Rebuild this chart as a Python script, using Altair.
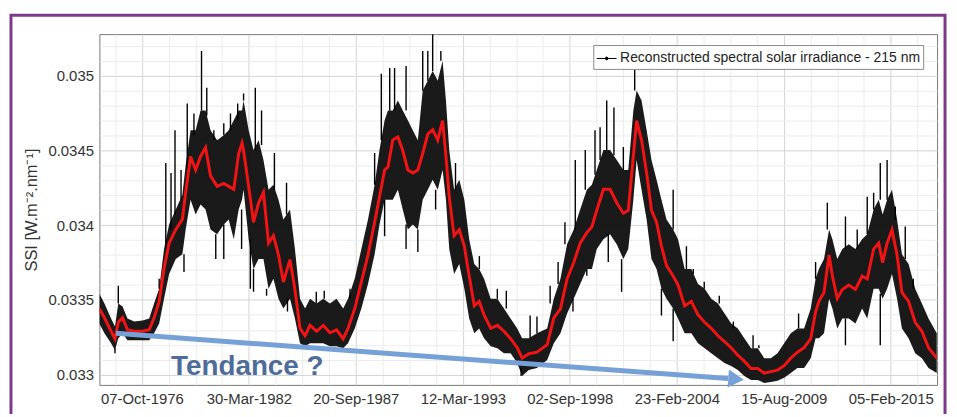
import altair as alt
import pandas as pd
import numpy as np

# ---------------- data ----------------
years = [1974.59, 1974.85, 1975.19, 1975.39, 1975.56, 1975.78, 1976.03, 1976.38, 1976.80, 1977.14,
         1977.39, 1977.65, 1977.90, 1978.16, 1978.50, 1978.84, 1979.01, 1979.26, 1979.52, 1979.77,
         1980.03, 1980.28, 1980.62, 1980.96, 1981.21, 1981.47, 1981.72, 1981.89, 1981.97, 1982.23,
         1982.48, 1982.74, 1982.99, 1983.25, 1983.50, 1983.76, 1984.01, 1984.35, 1984.60, 1984.86,
         1985.12, 1985.37, 1985.71, 1986.05, 1986.39, 1986.73, 1987.07, 1987.32, 1987.66, 1988.00,
         1988.34, 1988.68, 1988.93, 1989.19, 1989.36, 1989.61, 1989.87, 1990.12, 1990.38, 1990.63,
         1990.89, 1991.14, 1991.40, 1991.65, 1991.91, 1992.16, 1992.33, 1992.50, 1992.75, 1993.01,
         1993.27, 1993.52, 1993.78, 1994.03, 1994.28, 1994.62, 1994.96, 1995.30, 1995.64, 1995.98,
         1996.23, 1996.57, 1996.99, 1997.51, 1997.85, 1998.19, 1998.53, 1998.87, 1999.20, 1999.54,
         1999.80, 2000.05, 2000.39, 2000.73, 2001.07, 2001.41, 2001.66, 2001.92, 2002.09, 2002.34,
         2002.60, 2002.85, 2003.11, 2003.36, 2003.62, 2003.96, 2004.21, 2004.55, 2004.89, 2005.23,
         2005.57, 2005.91, 2006.25, 2006.59, 2006.93, 2007.27, 2007.60, 2007.95, 2008.29, 2008.62,
         2008.96, 2009.30, 2009.64, 2009.98, 2010.32, 2010.66, 2011.00, 2011.25, 2011.42, 2011.68,
         2011.94, 2012.11, 2012.36, 2012.62, 2012.95, 2013.29, 2013.63, 2013.89, 2014.22, 2014.48,
         2014.68, 2014.91, 2015.16, 2015.42, 2015.67, 2016.01, 2016.35, 2016.69, 2017.03, 2017.45]

smoothed = [0.03344, 0.03338, 0.03329, 0.03324, 0.03335, 0.03338, 0.03330, 0.03329, 0.03329, 0.03330,
            0.03338, 0.03349, 0.03371, 0.03388, 0.03397, 0.03404, 0.03422, 0.03446, 0.03437, 0.03446,
            0.03452, 0.03433, 0.03426, 0.03428, 0.03426, 0.03424, 0.03448, 0.03455, 0.03450, 0.03426,
            0.03402, 0.03415, 0.03422, 0.03388, 0.03393, 0.03380, 0.03362, 0.03377, 0.03357, 0.03331,
            0.03326, 0.03333, 0.03329, 0.03333, 0.03328, 0.03330, 0.03324, 0.03331, 0.03344, 0.03362,
            0.03380, 0.03402, 0.03419, 0.03437, 0.03439, 0.03457, 0.03459, 0.03450, 0.03437, 0.03435,
            0.03437, 0.03448, 0.03461, 0.03464, 0.03457, 0.03470, 0.03446, 0.03419, 0.03393, 0.03397,
            0.03386, 0.03366, 0.03346, 0.03349, 0.03340, 0.03331, 0.03333, 0.03329, 0.03324, 0.03318,
            0.03311, 0.03314, 0.03315, 0.03320, 0.03338, 0.03344, 0.03364, 0.03375, 0.03388, 0.03395,
            0.03399, 0.03410, 0.03424, 0.03424, 0.03415, 0.03408, 0.03410, 0.03446, 0.03470, 0.03457,
            0.03435, 0.03410, 0.03402, 0.03386, 0.03373, 0.03366, 0.03360, 0.03346, 0.03349, 0.03340,
            0.03335, 0.03331, 0.03326, 0.03322, 0.03318, 0.03313, 0.03309, 0.03304, 0.03304, 0.03301,
            0.03302, 0.03303, 0.03306, 0.03311, 0.03315, 0.03318, 0.03324, 0.03342, 0.03349, 0.03355,
            0.03380, 0.03366, 0.03351, 0.03357, 0.03360, 0.03357, 0.03366, 0.03364, 0.03384, 0.03388,
            0.03375, 0.03388, 0.03397, 0.03380, 0.03355, 0.03349, 0.03335, 0.03329, 0.03318, 0.03311]

band_hi = [0.033541, 0.033475, 0.033375, 0.033322, 0.033475, 0.033455, 0.033375, 0.033355, 0.033362, 0.033375,
           0.033475, 0.033574, 0.033840, 0.034005, 0.034105, 0.034204, 0.034403, 0.034635, 0.034635, 0.034768,
           0.034768, 0.034635, 0.034569, 0.034602, 0.034635, 0.034702, 0.034768, 0.034768, 0.034834, 0.034635,
           0.034503, 0.034569, 0.034436, 0.034237, 0.034271, 0.034171, 0.034038, 0.034105, 0.033840, 0.033508,
           0.033442, 0.033508, 0.033475, 0.033508, 0.033475, 0.033508, 0.033442, 0.033508, 0.033641, 0.033840,
           0.034038, 0.034271, 0.034503, 0.034702, 0.034768, 0.034768, 0.034834, 0.034768, 0.034702, 0.034635,
           0.034569, 0.034901, 0.034967, 0.035033, 0.034967, 0.035100, 0.034834, 0.034503, 0.034237, 0.034304,
           0.034171, 0.033906, 0.033740, 0.033707, 0.033641, 0.033508, 0.033508, 0.033442, 0.033375, 0.033309,
           0.033243, 0.033243, 0.033276, 0.033309, 0.033508, 0.033641, 0.033873, 0.033972, 0.034105, 0.034237,
           0.034271, 0.034370, 0.034503, 0.034503, 0.034436, 0.034370, 0.034370, 0.034768, 0.034901, 0.034834,
           0.034635, 0.034436, 0.034304, 0.034171, 0.034038, 0.033972, 0.033906, 0.033707, 0.033707, 0.033607,
           0.033574, 0.033508, 0.033475, 0.033409, 0.033342, 0.033309, 0.033243, 0.033176, 0.033176, 0.033110,
           0.033110, 0.033143, 0.033210, 0.033276, 0.033309, 0.033309, 0.033442, 0.033641, 0.033707, 0.033773,
           0.033972, 0.033906, 0.033773, 0.033840, 0.033873, 0.033840, 0.033906, 0.033939, 0.034105, 0.034171,
           0.034072, 0.034171, 0.034237, 0.034038, 0.033806, 0.033740, 0.033574, 0.033475, 0.033375, 0.033276]

band_lo = [0.033342, 0.033276, 0.033210, 0.033163, 0.033243, 0.033276, 0.033229, 0.033229, 0.033229, 0.033229,
           0.033276, 0.033342, 0.033508, 0.033674, 0.033773, 0.033806, 0.033972, 0.034171, 0.034072, 0.034138,
           0.034105, 0.033972, 0.033939, 0.034005, 0.034038, 0.033906, 0.034105, 0.034171, 0.034237, 0.033906,
           0.033707, 0.033773, 0.033773, 0.033574, 0.033641, 0.033508, 0.033442, 0.033508, 0.033375, 0.033210,
           0.033190, 0.033210, 0.033210, 0.033210, 0.033190, 0.033190, 0.033176, 0.033210, 0.033309, 0.033442,
           0.033607, 0.033806, 0.034005, 0.034171, 0.034171, 0.034171, 0.034237, 0.034105, 0.033972, 0.034005,
           0.033972, 0.034171, 0.034237, 0.034304, 0.034237, 0.034370, 0.034171, 0.033840, 0.033674, 0.033740,
           0.033574, 0.033375, 0.033276, 0.033309, 0.033243, 0.033190, 0.033176, 0.033143, 0.033143, 0.033077,
           0.032991, 0.033031, 0.033044, 0.033097, 0.033210, 0.033276, 0.033409, 0.033508, 0.033607, 0.033707,
           0.033707, 0.033840, 0.033906, 0.033939, 0.033873, 0.033773, 0.033840, 0.034171, 0.034436, 0.034237,
           0.034038, 0.033773, 0.033707, 0.033574, 0.033508, 0.033442, 0.033375, 0.033276, 0.033276, 0.033210,
           0.033176, 0.033143, 0.033110, 0.033077, 0.033057, 0.033031, 0.032991, 0.032964, 0.032964, 0.032944,
           0.032951, 0.032958, 0.032978, 0.033011, 0.033044, 0.033044, 0.033110, 0.033243, 0.033243, 0.033276,
           0.033508, 0.033442, 0.033309, 0.033375, 0.033375, 0.033342, 0.033442, 0.033375, 0.033574, 0.033574,
           0.033508, 0.033574, 0.033674, 0.033508, 0.033309, 0.033243, 0.033143, 0.033110, 0.033044, 0.033011]

# isolated daily excursions (time, extreme value, value where the dense band ends)
spike_year = [1975.56, 1977.65, 1977.99, 1978.26, 1978.46, 1978.77, 1979.09, 1979.43, 1979.82, 1980.09,
              1980.45, 1980.96, 1981.30, 1981.67, 1981.97, 1982.57, 1982.89, 1983.55, 1984.17, 1985.69,
              1986.10, 1987.42, 1988.68, 1989.02, 1989.45, 1989.70, 1990.29, 1991.14, 1991.40, 1991.65,
              1992.07, 1992.82, 1994.04, 1994.96, 1995.42, 1996.64, 1996.99, 1997.66, 1998.07, 1998.42,
              1998.95, 1999.46, 1999.96, 2000.22, 2000.56, 2000.93, 2001.41, 2001.99, 2003.96, 2004.64,
              2004.99, 2005.55, 2006.32, 2007.04, 2008.05, 2008.35, 2010.38, 2011.25, 2011.85, 2012.78,
              2013.38, 2013.89, 2014.22, 2014.56, 2014.91, 2015.33, 2015.84, 2016.25,
              1975.39, 1978.92, 1980.55, 1980.96, 1981.87, 1982.32, 1982.48, 1983.15, 1984.22, 1989.19,
              1990.29, 1990.89, 1991.80, 1996.18, 1998.83, 1999.54, 2000.64, 2001.32, 2003.36, 2003.96,
              2012.78, 2014.56]
spike_tip = [0.033594, 0.033641, 0.034416, 0.034350, 0.034635, 0.034370, 0.034814, 0.034748, 0.035166, 0.034920,
             0.034635, 0.034682, 0.034748, 0.034814, 0.034881, 0.034920, 0.034768, 0.034483, 0.034284, 0.033554,
             0.033561, 0.033574, 0.034483, 0.035013, 0.035053, 0.035053, 0.035066, 0.035166, 0.035166, 0.035279,
             0.035166, 0.034416, 0.033793, 0.033574, 0.033561, 0.033395, 0.033389, 0.033594, 0.033753, 0.034019,
             0.034436, 0.034503, 0.034635, 0.034655, 0.034834, 0.034788, 0.034523, 0.035053, 0.034237, 0.033859,
             0.033707, 0.033621, 0.033528, 0.033355, 0.033263, 0.033196, 0.033409, 0.033753, 0.034151, 0.034058,
             0.033972, 0.034191, 0.034218, 0.034416, 0.034436, 0.034125, 0.033992, 0.033641,
             0.033143, 0.033687, 0.033773, 0.033773, 0.033840, 0.033574, 0.033554, 0.033528, 0.033422, 0.033926,
             0.033840, 0.033820, 0.034105, 0.032991, 0.033422, 0.033661, 0.033753, 0.033554, 0.033395, 0.033223,
             0.033196, 0.033196]
spike_base = [0.033475, 0.033574, 0.033840, 0.033972, 0.034072, 0.034171, 0.034370, 0.034602, 0.034768, 0.034735,
              0.034569, 0.034602, 0.034635, 0.034702, 0.034834, 0.034503, 0.034536, 0.034237, 0.034072, 0.033475,
              0.033508, 0.033508, 0.034271, 0.034569, 0.034768, 0.034768, 0.034768, 0.034901, 0.034967, 0.035033,
              0.035100, 0.034237, 0.033707, 0.033508, 0.033442, 0.033243, 0.033276, 0.033475, 0.033607, 0.033873,
              0.033972, 0.034237, 0.034337, 0.034436, 0.034503, 0.034469, 0.034370, 0.034901, 0.033972, 0.033707,
              0.033674, 0.033574, 0.033475, 0.033309, 0.033176, 0.033176, 0.033309, 0.033641, 0.033972, 0.033840,
              0.033840, 0.033939, 0.034105, 0.034171, 0.034171, 0.034038, 0.033773, 0.033574,
              0.033176, 0.033806, 0.033939, 0.034005, 0.034105, 0.033906, 0.033707, 0.033574, 0.033508, 0.034171,
              0.034005, 0.033972, 0.034237, 0.033044, 0.033508, 0.033707, 0.033939, 0.033773, 0.033574, 0.033442,
              0.033375, 0.033541]

major_dates = ["1976-10-07", "1982-03-30", "1987-09-20", "1993-03-12",
               "1998-09-02", "2004-02-23", "2009-08-15", "2015-02-05"]
y_labels = [0.033, 0.0335, 0.034, 0.0345, 0.035]

legend_label = "Reconstructed spectral solar irradiance - 215 nm"
y_title = "SSI [W.m\u207b\u00b2.nm\u207b\u00b9]"
note_text = "Tendance ?"
arrow_years = [1975.44, 2006.77]
arrow_vals = [0.033276, 0.032974]
arrow_head_year = [2007.18]
arrow_head_val = [0.032970]
note_year = [1978.26]
note_val = [0.03300]

x_start, x_end = "1974-08-05", "2017-06-20"
y_min, y_max = 0.032931, 0.035279


def to_date(y):
    yr = int(np.floor(y))
    d = pd.Timestamp(year=yr, month=1, day=1) + pd.Timedelta(days=(y - yr) * 365.25)
    return d.strftime("%Y-%m-%d")


def ms(d):
    return int(pd.Timestamp(d).value // 10**6)


main = pd.DataFrame({"date": [to_date(v) for v in years], "smooth": smoothed,
                     "hi": band_hi, "lo": band_lo})
spikes = pd.DataFrame({"date": [to_date(v) for v in spike_year], "tip": spike_tip,
                       "base": spike_base, "series": legend_label})
arrow = pd.DataFrame({"date": [to_date(v) for v in arrow_years], "v": arrow_vals})
head = pd.DataFrame({"date": [to_date(v) for v in arrow_head_year], "v": arrow_head_val})
note = pd.DataFrame({"date": [to_date(v) for v in note_year], "v": note_val, "t": [note_text]})
frame = pd.DataFrame({"k": [0]})

# ---------------- axes ----------------
minor_x = [ms(d) for d in pd.date_range("1975-05-26", x_end, freq="500D")]
major_ms = [ms(d) for d in major_dates]
x_major_test = "(" + " || ".join("abs(datum.value - %d) < 3600000" % m for m in major_ms) + ")"
x_axis = alt.Axis(
    values=minor_x, title=None, labelExpr="%s ? utcFormat(datum.value, '%%d-%%b-%%Y') : ''" % x_major_test,
    grid=True, gridColor={"condition": {"test": x_major_test, "value": "#d4d4d4"}, "value": "#ececec"},
    ticks=False, domain=False, labelPadding=7, labelFlush=False, labelOverlap=False,
)
minor_y = [round(0.0330 + i * 0.0001, 4) for i in range(23)]
y_major_test = "(" + " || ".join("abs(datum.value - %g) < 0.000001" % v for v in y_labels) + ")"
y_axis = alt.Axis(
    values=minor_y, title=y_title, labelExpr="%s ? format(datum.value, '~g') : ''" % y_major_test,
    grid=True, gridColor={"condition": {"test": y_major_test, "value": "#d4d4d4"}, "value": "#ececec"},
    ticks=False, domain=False, labelPadding=6, titlePadding=8, labelOverlap=False,
    titleFontSize=16.5, titleFontWeight="normal", titleFont="Liberation Sans", titleColor="#333333",
)
x_scale = alt.Scale(type="utc", domain=[ms(x_start), ms(x_end)])
y_scale = alt.Scale(domain=[y_min, y_max], zero=False, nice=False)


def X():
    return alt.X("date:T", scale=x_scale, axis=x_axis)


def Y(f):
    return alt.Y(f, type="quantitative", scale=y_scale, axis=y_axis)


band = alt.Chart(main).mark_area(color="#0e0e0e", opacity=0.95, clip=True).encode(
    x=X(), y=Y("hi"), y2="lo")

spike = alt.Chart(spikes).mark_rule(strokeWidth=1.4, clip=True).encode(
    x=X(), y=Y("tip"), y2="base",
    color=alt.Color("series:N", scale=alt.Scale(range=["black"]),
                    legend=alt.Legend(title=None, orient="none", legendX=497, legendY=11,
                                      strokeColor="#8a8a8a", fillColor="white", padding=3,
                                      labelFontSize=14, labelFont="Liberation Sans", labelColor="#222222",
                                      labelLimit=0, labelOffset=3, symbolSize=400, symbolStrokeWidth=1,
                                      symbolType="M-1,0H1M-0.14,0A0.14,0.14,0,1,1,0.14,0A0.14,0.14,0,1,1,-0.14,0",
                                      symbolFillColor="black")))

red = alt.Chart(main).mark_line(color="#f01414", strokeWidth=3, clip=True).encode(
    x=X(), y=Y("smooth"))

shaft = alt.Chart(arrow).mark_line(color="#76a1d6", strokeWidth=5, strokeCap="butt").encode(
    x=X(), y=Y("v"))
arrow_head = alt.Chart(head).mark_point(shape="triangle-right", filled=True, size=330, angle=4.2,
                                        color="#76a1d6", opacity=1).encode(x=X(), y=Y("v"))
label = alt.Chart(note).mark_text(align="left", baseline="alphabetic", fontSize=28, fontWeight="bold",
                                  font="Liberation Sans", color="#4d6c99").encode(
    x=X(), y=Y("v"), text="t:N")

border = alt.Chart(frame).mark_rect(fillOpacity=0, stroke="#7d3a8a", strokeWidth=3).encode(
    x=alt.value(-89), x2=alt.value(851), y=alt.value(-19), y2=alt.value(420))

chart = alt.layer(band, spike, red, shaft, arrow_head, label, border).properties(
    width=843, height=353,
    autosize=alt.AutoSizeParams(type="none"),
    padding={"left": 92, "top": 25, "right": 12, "bottom": 28},
    background="white",
).configure_view(stroke="#7a7a7a", strokeWidth=1).configure_axis(
    labelFont="Liberation Sans", labelFontSize=15, labelColor="#333333")

chart.save("out.html", embed_options={"renderer": "svg", "actions": False})
